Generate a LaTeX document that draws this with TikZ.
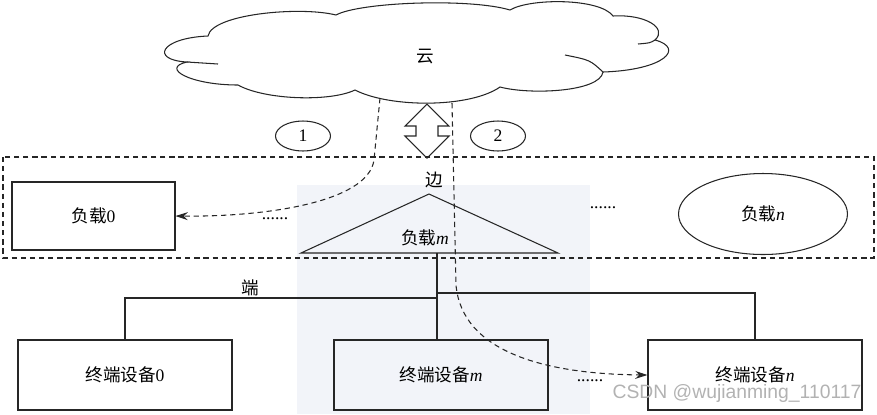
\documentclass[tikz,border=0pt]{standalone}
\usepackage{fontspec}
\setmainfont{Liberation Serif}
\newfontfamily\cjk{Noto Sans CJK SC}
\newfontfamily\wmfont{Liberation Sans}
\usepackage{tikz}
\usetikzlibrary{shapes}
\usetikzlibrary{arrows.meta}
\definecolor{wmbg}{RGB}{242,244,249}
\tikzset{myline/.style={line width=0.6pt, draw=black!85}}
\tikzset{myDash/.style={myline, dash pattern=on 3pt off 2.2pt}}
\tikzset{myboxLoad/.style={myline, draw, minimum width=3.26cm, minimum height=1.36cm}}
\tikzset{myboxDev/.style={myline, draw, minimum width=4.28cm, minimum height=1.4cm}}
\tikzset{myOval/.style={myline, draw, ellipse, inner sep=0pt}}

\begin{document}
\begin{tikzpicture}[x=0.02cm, y=-0.02cm]
\useasboundingbox (0,0) rectangle (877,414);

% watermark
\fill[wmbg] (297,185) rectangle (590,414);

% cloud
\draw[myline] (208,36) .. controls (212,14) and (300,6) .. (336,15)
  .. controls (360,2) and (470,-2) .. (510,10)
  .. controls (530,-2) and (600,-2) .. (613,16)
  .. controls (645,14) and (668,28) .. (655,40)
  .. controls (685,48) and (665,70) .. (603,72)
  .. controls (600,92) and (530,95) .. (500,87)
  .. controls (470,108) and (390,108) .. (355,90)
  .. controls (330,102) and (265,100) .. (238,85)
  .. controls (190,85) and (160,68) .. (187,62)
  .. controls (150,60) and (160,38) .. cycle;
\draw[myline] (565,55) .. controls (590,60) .. (603,72);
\draw[myline] (655,40) .. controls (650,43) .. (638,44);
\draw[myline] (187,62) -- (218,64);
\node[] (yun) at (425,57) {\cjk 云};

\node[myOval, minimum width=1.1cm, minimum height=0.6cm] (one) at (303,136) {1};
\node[myOval, minimum width=1.1cm, minimum height=0.6cm] (two) at (498,136) {2};

% double arrow between cloud and edge
\draw[myline] (427,104) -- (449,126) -- (438,126) -- (438,136) -- (449,136)
  -- (427,158) -- (405,136) -- (416,136) -- (416,126) -- (405,126) -- cycle;

\draw[myDash] (3,157) rectangle (874,258);
\node[] (bian) at (434,180) {\cjk 边};

\node[myboxLoad] (load0) at (93.5,216) {{\cjk 负载}0};
\node[] (dotsA) at (275,219) {......};

\coordinate (tri) at (437,253);
\draw[myline] (301,253) -- (429,194) -- (558,253) -- cycle;
\node[] (loadm) at (425,238) {{\cjk 负载}\textit{m}};

\node[] (dotsB) at (603,208) {......};
\node[myOval, minimum width=3.38cm, minimum height=1.62cm] (loadn) at (763,214) {{\cjk 负载}\textit{n}};

\node[myboxDev] (dev0) at (125,375) {{\cjk 终端设备}0};
\node[myboxDev] (devm) at (441,375) {{\cjk 终端设备}\textit{m}};
\node[myboxDev] (devn) at (755,375) {{\cjk 终端设备}\textit{n}};
\node[] (dotsC) at (590,381) {......};

\node[] (duan) at (250,288) {\cjk 端};

% tree from load m to the devices
\coordinate (jl) at (437,298);
\coordinate (jr) at (437,293);
\draw[myline] (tri) -- (tri |- devm.north);
\draw[myline] (jl) -| (dev0.north);
\draw[myline] (jr) -| (devn.north);

% offloading paths
\coordinate (c1) at (380,98);
\coordinate (c2) at (452,103);
\draw[myDash, -{Stealth[length=7pt, width=4.5pt]}] (c1) -- (374,160)
  .. controls (368,203) and (262,217) .. (load0.east);
\draw[myDash, -{Stealth[length=7pt, width=4.5pt]}] (c2) -- (456,285)
  .. controls (462,352) and (545,374) .. (devn.west);

\node[text=gray!60, font=\wmfont\fontsize{11pt}{13pt}\selectfont] (csdn) at (737,393) {CSDN @wujianming\_110117};
\end{tikzpicture}
\end{document}
